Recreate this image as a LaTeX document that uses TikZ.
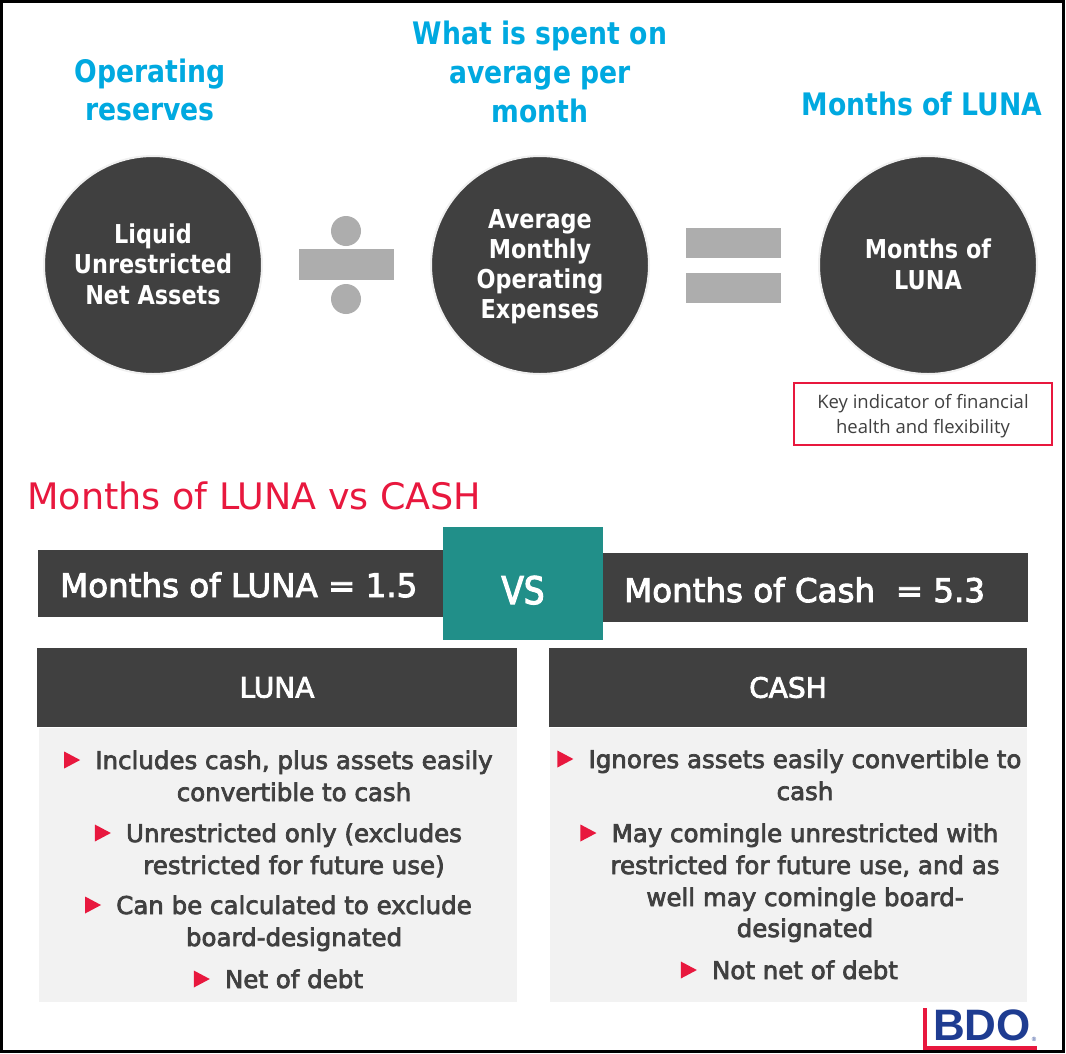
\documentclass[tikz,border=0pt]{standalone}
\usepackage{fontspec}
\setmainfont{DejaVu Sans}[FakeStretch=0.86]
\newfontfamily\medfont{DejaVu Sans}[FakeBold=3]
\newfontfamily\medcfont{DejaVu Sans}[FakeStretch=0.86,FakeBold=3]
\newfontfamily\plainfont{DejaVu Sans}
\newfontfamily\keyfont{Open Sans}
\newfontfamily\logofont{Liberation Sans}
\usetikzlibrary{calc}
\definecolor{cyanT}{RGB}{0,169,224}
\definecolor{darkG}{RGB}{64,64,64}
\definecolor{opG}{RGB}{173,173,173}
\definecolor{tealV}{RGB}{33,143,137}
\definecolor{redL}{RGB}{232,24,62}
\definecolor{lightG}{RGB}{242,242,242}
\definecolor{txtG}{RGB}{64,64,64}
\definecolor{bdoBlue}{RGB}{30,60,145}
\tikzset{
  cyanhead/.style={anchor=base, inner sep=0, text=cyanT, font=\bfseries\fontsize{31}{38}\selectfont},
  circ/.style={circle, fill=darkG, draw=gray!12, line width=2pt, minimum size=218pt, inner sep=0},
  circtxt/.style={anchor=base, inner sep=0, text=white, font=\bfseries\fontsize{26}{30}\selectfont},
  opsym/.style={fill=opG, draw=none},
  bartxt/.style={anchor=base west, inner sep=0, text=white, font=\medfont\fontsize{32.5}{36}\selectfont},
  hbox/.style={rectangle, fill=darkG, inner sep=0, text=white, font=\medfont\fontsize{28}{30}\selectfont},
  bodybox/.style={rectangle, fill=lightG, draw=white, line width=1pt, inner sep=0},
  btxt/.style={anchor=base, inner sep=0, text=txtG, font=\medfont\fontsize{24.5}{30}\selectfont},
  bul/.style={fill=redL},
  keytxt/.style={anchor=base, inner sep=0, text=txtG, font=\keyfont\fontsize{18.5}{22}\selectfont},
}
\begin{document}
\begin{tikzpicture}[x=1pt,y=-1pt]
\useasboundingbox (0,0) rectangle (1066,1053);
\fill[white] (0,0) rectangle (1066,1053);
\draw[black, line width=3pt] (1.5,1.5) rectangle (1063.5,1051.5);

% headings
\node[cyanhead] (h1a) at (150,82) {Operating};
\node[cyanhead] (h1b) at (150,120) {reserves};
\node[cyanhead] (h2a) at (540,44) {What is spent on};
\node[cyanhead] (h2b) at (540,83) {average per};
\node[cyanhead] (h2c) at (540,122) {month};
\node[cyanhead] (h3a) at (922,115) {Months of LUNA};

% circles
\node[circ] (c1) at (153,265) {};
\node[circ] (c2) at (540,265) {};
\node[circ] (c3) at (928,265) {};
\node[circtxt] (c1a) at (153,243) {Liquid};
\node[circtxt] (c1b) at (153,273) {Unrestricted};
\node[circtxt] (c1c) at (153,304) {Net Assets};
\node[circtxt] (c2a) at (540,228) {Average};
\node[circtxt] (c2b) at (540,258) {Monthly};
\node[circtxt] (c2c) at (540,288) {Operating};
\node[circtxt] (c2d) at (540,318) {Expenses};
\node[circtxt] (c3a) at (928,258) {Months of};
\node[circtxt] (c3b) at (928,289) {LUNA};

% divide sign
\fill[opsym] (346,231) circle (15);
\fill[opsym] (346,299) circle (15);
\fill[opsym] (299,249) rectangle (394,280);
% equals sign
\fill[opsym] (686,228) rectangle (781,258);
\fill[opsym] (686,273) rectangle (781,303);

% key indicator box
\node[draw=redL, line width=2pt, minimum width=258pt, minimum height=62pt, inner sep=0] (key) at (923,413.5) {};
\node[keytxt] (k1) at (923,408) {Key indicator of financial};
\node[keytxt] (k2) at (923,433) {health and flexibility};

% red title
\node[anchor=base west, inner sep=0, text=redL, font=\plainfont\fontsize{36.5}{42}\selectfont] (title) at (27,509) {Months of LUNA vs CASH};

% bars
\node[rectangle, fill=darkG, minimum width=405pt, minimum height=67pt, inner sep=0] (barL) at (240.5,583.5) {};
\node[rectangle, fill=darkG, minimum width=425pt, minimum height=69pt, inner sep=0] (barR) at (815.5,587.5) {};
\node[rectangle, fill=tealV, minimum width=160pt, minimum height=113pt, inner sep=0] (vs) at (523,583.5) {};
\node[bartxt] (bl) at (60,597) {Months of LUNA = 1.5};
\node[bartxt] (br) at (624,602) {Months of Cash\ \ = 5.3};
\node[anchor=base, inner sep=0, text=white, font=\medcfont\fontsize{38}{40}\selectfont] (vst) at (523,604) {VS};

% headers
\node[hbox, minimum width=480pt, minimum height=79pt] (hL) at (277,687.5) {LUNA};
\node[hbox, minimum width=478pt, minimum height=79pt] (hR) at (788,687.5) {CASH};

% bodies
\node[bodybox, minimum width=479pt, minimum height=275pt] (bL) at (277.5,864.5) {};
\node[bodybox, minimum width=478pt, minimum height=275pt] (bR) at (788,864.5) {};

% left bullets
\node[btxt] (l1) at (294,769) {Includes cash, plus assets easily};
\node[btxt] (l2) at (294,801) {convertible to cash};
\node[btxt] (l3) at (294,842) {Unrestricted only (excludes};
\node[btxt] (l4) at (294,874) {restricted for future use)};
\node[btxt] (l5) at (294,914) {Can be calculated to exclude};
\node[btxt] (l6) at (294,946) {board-designated};
\node[btxt] (l7) at (294,988) {Net of debt};
\foreach \n in {l1,l3,l5,l7}
  \fill[bul] ($(\n.base west)+(-15,-9)$) -- ++(-16,-8.5) -- ++(0,17) -- cycle;

% right bullets
\node[btxt] (r1) at (805,768) {Ignores assets easily convertible to};
\node[btxt] (r2) at (805,800) {cash};
\node[btxt] (r3) at (805,842) {May comingle unrestricted with};
\node[btxt] (r4) at (805,874) {restricted for future use, and as};
\node[btxt] (r5) at (805,906) {well may comingle board-};
\node[btxt] (r6) at (805,937) {designated};
\node[btxt] (r7) at (805,979) {Not net of debt};
\foreach \n in {r1,r3,r7}
  \fill[bul] ($(\n.base west)+(-15,-9)$) -- ++(-16,-8.5) -- ++(0,17) -- cycle;

% logo
\fill[redL] (923,1008) rectangle (927,1050);
\fill[redL] (923,1046) rectangle (1037,1050);
\node[anchor=base west, inner sep=0, text=bdoBlue, font=\logofont\bfseries\fontsize{44}{44}\selectfont] (bdo) at (933,1040) {BDO};
\node[anchor=center, inner sep=0, text=bdoBlue, font=\logofont\fontsize{6}{6}\selectfont] (reg) at (1034,1039) {®};
\end{tikzpicture}
\end{document}
